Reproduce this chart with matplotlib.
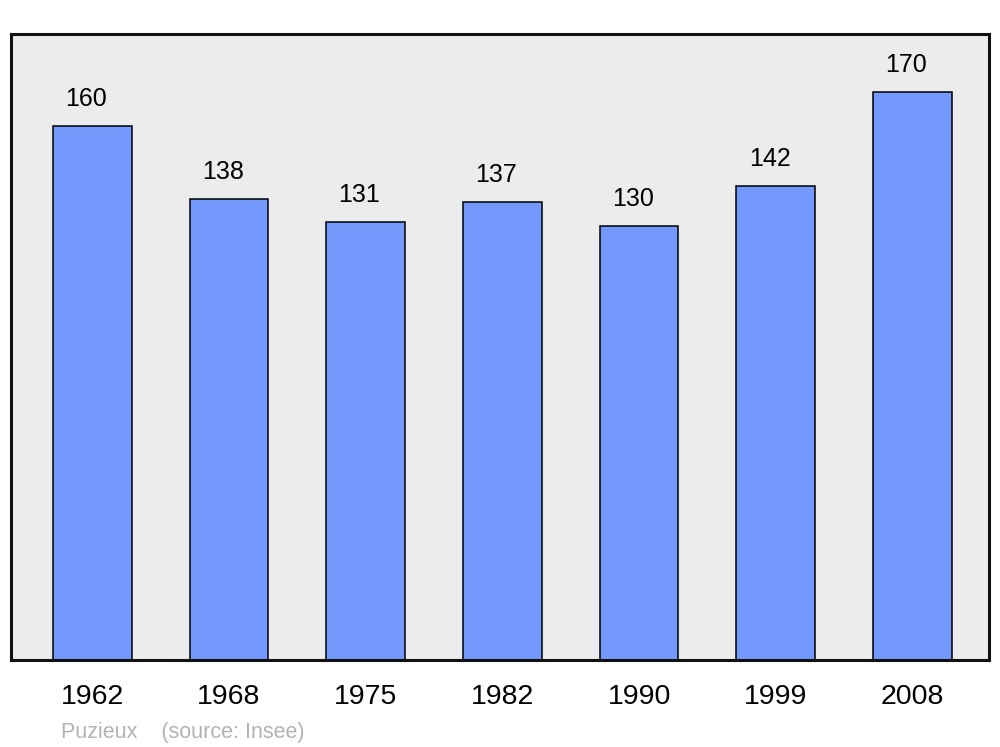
import matplotlib
matplotlib.use("Agg")
import matplotlib.pyplot as plt

years = ["1962", "1968", "1975", "1982", "1990", "1999", "2008"]
population = [160, 138, 131, 137, 130, 142, 170]

plt.rcParams['font.family'] = ['Liberation Sans', 'DejaVu Sans']

fig = plt.figure(figsize=(10, 7.47), dpi=100)
ax = fig.add_axes([0.011, 0.1165, 0.978, 0.838])
ax.set_facecolor('#ececec')

x = list(range(len(years)))
ax.bar(x, population, width=0.575, color='#7399ff', edgecolor='black', linewidth=1.1, zorder=2)
for xi, v in zip(x, population):
    ax.annotate(str(v), (xi, v), xytext=(-4.5, 10.8), textcoords='offset points',
                ha='center', va='bottom', fontsize=18, color='black')

ax.set_xlim(-0.595, 6.56)
ax.set_ylim(0, 187.4)
ax.set_xticks(x)
ax.set_xticklabels(years, fontsize=20.5)
ax.tick_params(axis='x', length=0, pad=17)
ax.set_yticks([])
for s in ax.spines.values():
    s.set_linewidth(2.2)
    s.set_color('#111111')

fig.text(0.061, 0.012, "Puzieux    (source: Insee)", fontsize=15.5, color='#b3b3b3', ha='left', va='baseline')

fig.savefig("out.png", dpi=100)
